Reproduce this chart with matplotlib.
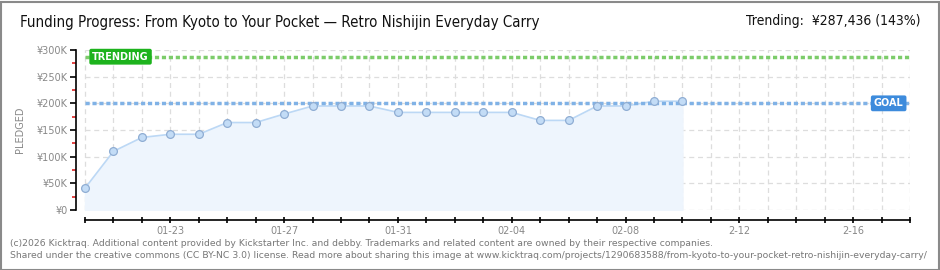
import numpy as np
import matplotlib
matplotlib.use("Agg")
import matplotlib.pyplot as plt
from matplotlib.patches import Rectangle

# days since 01-20 and pledged amount (yen)
days = list(range(22))
pledged = [41000, 110000, 136000, 142000, 142000, 164000, 164000, 180000,
           195000, 195000, 195000, 183000, 183000, 183000, 183000, 183000,
           168000, 168000, 195000, 195000, 204000, 204000]
goal = 200000
trending = 287436
tick_days = list(range(30))
label_days = [3, 7, 11, 15, 19, 23, 27]
date_labels = ["01-23", "01-27", "01-31", "02-04", "02-08", "2-12", "2-16"]
y_ticks = [0, 50000, 100000, 150000, 200000, 250000, 300000]
y_labels = ["¥0", "¥50K", "¥100K", "¥150K", "¥200K", "¥250K", "¥300K"]

W, H = 940, 270
fig = plt.figure(figsize=(W / 100, H / 100), dpi=100)
fig.patch.set_facecolor("white")

# border round the whole picture
fig.add_artist(Rectangle((0.5 / W, 0.5 / H), 1 - 2 / W, 1 - 2 / H, transform=fig.transFigure,
                         fill=False, edgecolor="#8a8a8a", linewidth=1.5))

# axes: y spine at x=76px, day 0 at 85px, day 29 at 910px, y from 210px to 50px
px_day = (910 - 85) / 29
x0 = -(85 - 76) / px_day
ax = fig.add_axes([76 / W, (H - 210) / H, (910 - 76) / W, 160 / H])
ax.set_xlim(x0, 29)
ax.set_ylim(0, 300000)

# grid
for d in tick_days:
    ax.plot([d, d], [0, 300000], color="#dddddd", lw=0.9, ls=(0, (4, 3)), zorder=1)
for yv in y_ticks:
    ax.plot([0, 29], [yv, yv], color="#dddddd", lw=0.9, ls=(0, (4, 3)), zorder=1)

# area + line + markers
ax.fill_between(days, pledged, 0, color="#eef5fd", zorder=2)
ax.plot(days, pledged, color="#bcd8f5", lw=1.2, zorder=3)
ax.plot(days, pledged, ls="none", marker="o", ms=5.6, mfc="#c3dcf6", mec="#8fadd3",
        mew=0.9, zorder=5)

# goal and trending lines
ax.plot([0, 29], [goal, goal], color="#80b2e6", lw=2.5, ls=(0, (1.2, 0.8)), zorder=4)
ax.plot([0, 29], [trending, trending], color="#7ccc6a", lw=2.5, ls=(0, (1.2, 0.8)), zorder=4)

# labels on the lines
ax.text(1.25, trending, "TRENDING", color="white", fontsize=7, fontweight="bold",
        ha="center", va="center", zorder=6, family="DejaVu Sans",
        bbox=dict(boxstyle="round,pad=0.3,rounding_size=0.2", fc="#1db31d", ec="none"))
ax.text(28.25, goal, "GOAL", color="white", fontsize=7, fontweight="bold",
        ha="center", va="center", zorder=6, family="DejaVu Sans",
        bbox=dict(boxstyle="round,pad=0.3,rounding_size=0.2", fc="#3d8bdc", ec="none"))

# spines
for s in ["top", "right"]:
    ax.spines[s].set_visible(False)
ax.spines["left"].set_color("black")
ax.spines["left"].set_linewidth(1.2)
ax.spines["bottom"].set_position(("outward", 7.2))
ax.spines["bottom"].set_bounds(0, 29)
ax.spines["bottom"].set_linewidth(1.2)

ax.set_yticks(y_ticks)
ax.set_yticklabels(y_labels)
ax.set_yticks([25000, 75000, 125000, 175000, 225000, 275000], minor=True)
ax.tick_params(axis="y", which="major", length=4, width=1.2, colors="black",
               labelcolor="#888888", labelsize=7, pad=2)
ax.tick_params(axis="y", which="minor", length=3, width=1.2, colors="#dd2222")

ax.set_xticks(tick_days)
ax.set_xticklabels([date_labels[label_days.index(d)] if d in label_days else "" for d in tick_days])
ax.tick_params(axis="x", which="major", direction="inout", length=4.5, width=1.2,
               colors="black", labelcolor="#888888", labelsize=7, pad=2)

ax.set_ylabel("PLEDGED", color="#888888", fontsize=7, labelpad=8)

# title and trending text
fig.text(20 / W, 1 - 22 / H, "Funding Progress: From Kyoto to Your Pocket — Retro Nishijin Everyday Carry",
         fontsize=10.8, color="#111111", ha="left", va="center", fontstretch="condensed")
fig.text(920 / W, 1 - 21 / H, "Trending:  ¥287,436 (143%)",
         fontsize=10, color="#111111", ha="right", va="center", fontstretch="condensed")

# footer
fig.text(10 / W, 1 - 243 / H,
         "(c)2026 Kicktraq. Additional content provided by Kickstarter Inc. and debby. Trademarks and related content are owned by their respective companies.",
         fontsize=6.7, color="#777777", ha="left", va="center")
fig.text(10 / W, 1 - 255 / H,
         "Shared under the creative commons (CC BY-NC 3.0) license. Read more about sharing this image at www.kicktraq.com/projects/1290683588/from-kyoto-to-your-pocket-retro-nishijin-everyday-carry/",
         fontsize=6.7, color="#777777", ha="left", va="center")

fig.savefig("out.png", dpi=100)
